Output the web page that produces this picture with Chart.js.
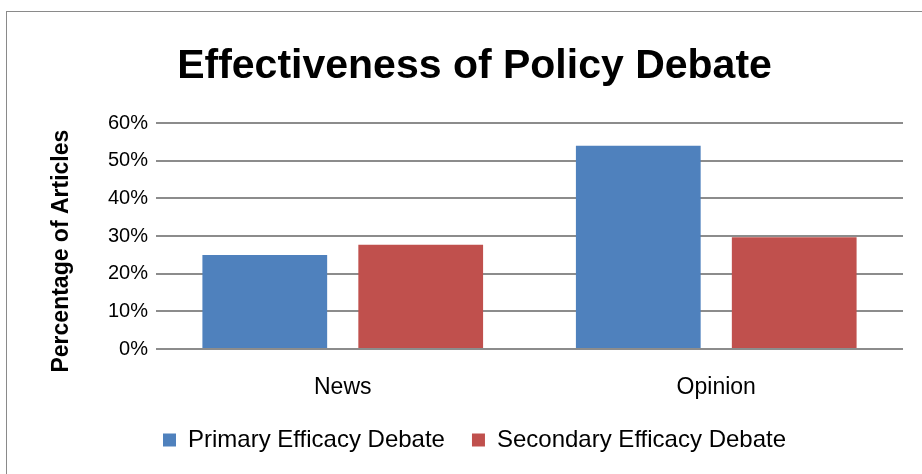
<!DOCTYPE html>
<html>
<head>
<meta charset="utf-8">
<script src="https://cdn.jsdelivr.net/npm/chart.js@4/dist/chart.umd.min.js"></script>
<style>
  html, body { margin: 0; padding: 0; background: #fff; overflow: hidden; }
  #frame { position: absolute; left: 6px; top: 11px; width: 940px; height: 480px;
           border: 1px solid #8a8a8a; box-sizing: border-box; }
  #wrap { position: absolute; left: 0; top: 0; width: 922px; height: 474px; }
</style>
</head>
<body>
<div id="frame"></div>
<div id="wrap"><canvas id="chart" width="922" height="474"></canvas></div>
<script>
////////////////////////////////////////////////////////////////////////
// Data
const categories = ["News", "Opinion"]
const primaryEfficacy = [25, 54]
const secondaryEfficacy = [27.7, 29.7]
const seriesNames = ["Primary Efficacy Debate", "Secondary Efficacy Debate"]
const yAxisTitle = "Percentage of Articles"

const FONT = "'Liberation Sans', Arial, sans-serif"

Chart.defaults.font.family = FONT
Chart.defaults.color = "#000"

/**
 * Draws the y axis title a bit below the plot centre, as the original does.
 */
const yTitlePlugin = {
    id: "yTitle",
    afterDraw(chart) {
        const ctx = chart.ctx
        const area = chart.chartArea
        ctx.save()
        ctx.translate(area.left - 94, (area.top + area.bottom) / 2 + 15)
        ctx.rotate(-Math.PI / 2)
        ctx.font = "bold 23px " + FONT
        ctx.fillStyle = "#000"
        ctx.textAlign = "center"
        ctx.textBaseline = "middle"
        ctx.fillText(yAxisTitle, 0, 0)
        ctx.restore()
    }
}

new Chart(document.getElementById("chart"), {
    type: "bar",
    data: {
        labels: categories,
        datasets: [
            {
                label: seriesNames[0],
                data: primaryEfficacy,
                backgroundColor: "#4F81BD"
            },
            {
                label: seriesNames[1],
                data: secondaryEfficacy,
                backgroundColor: "#C0504D"
            }
        ]
    },
    plugins: [yTitlePlugin],
    options: {
        responsive: false,
        animation: false,
        categoryPercentage: 0.835,
        barPercentage: 0.8,
        layout: {
            padding: { left: 46, right: 19, top: 22, bottom: 12 }
        },
        plugins: {
            title: {
                display: true,
                text: "Effectiveness of Policy Debate",
                font: { size: 41, weight: "bold" },
                padding: { top: 20, bottom: 32 }
            },
            legend: {
                position: "bottom",
                labels: {
                    boxWidth: 13,
                    boxHeight: 13,
                    padding: 27,
                    font: { size: 24 }
                }
            },
            tooltip: { enabled: false }
        },
        scales: {
            x: {
                grid: { display: false, drawTicks: false },
                border: { display: false },
                ticks: { font: { size: 23 }, padding: 25 },
                afterFit: scale => { scale.height = 52 }
            },
            y: {
                min: 0,
                max: 60,
                ticks: {
                    stepSize: 10,
                    font: { size: 20 },
                    padding: 8,
                    callback: v => v + "%"
                },
                grid: { color: "#8c8c8c", lineWidth: 2, drawTicks: false },
                border: { display: false },
                afterFit: scale => { scale.width = 110 }
            }
        }
    }
})
</script>
</body>
</html>
